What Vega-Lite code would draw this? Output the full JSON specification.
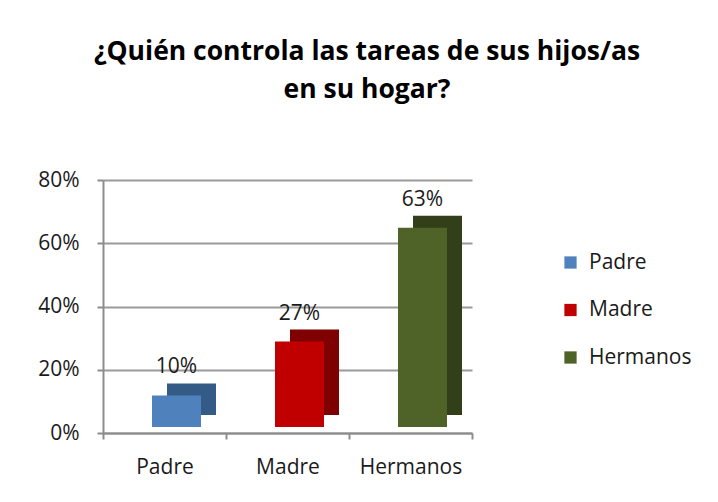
{
  "$schema": "https://vega.github.io/schema/vega-lite/v6.json",
  "autosize": {"type": "none"},
  "padding": {"left": 103, "top": 180, "right": 203, "bottom": 69},
  "width": 412,
  "height": 253,
  "background": "white",
  "config": {"view": {"stroke": null}},
  "title": {
    "text": ["¿Quién controla las tareas de sus hijos/as", "en su hogar?"],
    "font": "Open Sans",
    "fontSize": 26.5,
    "fontWeight": "bold",
    "color": "#000000",
    "anchor": "middle",
    "frame": "group",
    "dx": 58,
    "offset": 66,
    "lineHeight": 38
  },
  "data": {
    "values": [
      {"categoria": "Padre", "valor": 0.10, "etiqueta": "10%"},
      {"categoria": "Madre", "valor": 0.27, "etiqueta": "27%"},
      {"categoria": "Hermanos", "valor": 0.63, "etiqueta": "63%"}
    ]
  },
  "encoding": {
    "x": {
      "field": "categoria",
      "type": "nominal",
      "sort": ["Padre", "Madre", "Hermanos"],
      "scale": {"range": [0, 369], "paddingInner": 0, "paddingOuter": 0},
      "axis": {
        "title": null,
        "labelAngle": 0,
        "labelFont": "Open Sans",
        "labelFontSize": 21,
        "labelColor": "#1a1a1a",
        "labelPadding": 17,
        "tickBand": "extent",
        "tickSize": 6,
        "tickColor": "#8c8c8c",
        "domainColor": "#8c8c8c",
        "domainWidth": 2,
        "tickWidth": 2,
        "grid": false
      }
    },
    "y": {
      "field": "valor",
      "type": "quantitative",
      "scale": {"domain": [0, 0.8]},
      "axis": {
        "title": null,
        "format": ".0%",
        "values": [0, 0.2, 0.4, 0.6, 0.8],
        "labelFont": "Open Sans",
        "labelFontSize": 21,
        "labelColor": "#1a1a1a",
        "labelPadding": 18,
        "tickSize": 6,
        "tickColor": "#8c8c8c",
        "tickWidth": 2,
        "domainColor": "#8c8c8c",
        "domainWidth": 2,
        "grid": true,
        "gridColor": "#9a9a9a",
        "gridWidth": 2
      }
    }
  },
  "layer": [
    {
      "mark": {"type": "bar", "width": 49, "xOffset": 27, "x2Offset": 27, "yOffset": -18, "y2Offset": -18},
      "encoding": {
        "color": {
          "field": "categoria",
          "type": "nominal",
          "sort": ["Padre", "Madre", "Hermanos"],
          "scale": {"domain": ["Padre", "Madre", "Hermanos"], "range": ["#345a86", "#7f0000", "#323f19"]},
          "legend": null
        }
      }
    },
    {
      "mark": {"type": "bar", "width": 49, "xOffset": 12, "x2Offset": 12, "yOffset": -6, "y2Offset": -6},
      "encoding": {
        "color": {
          "field": "categoria",
          "type": "nominal",
          "sort": ["Padre", "Madre", "Hermanos"],
          "scale": {"domain": ["Padre", "Madre", "Hermanos"], "range": ["#4f81bd", "#c00000", "#4f6228"]},
          "legend": {
            "title": null,
            "orient": "none",
            "legendX": 457,
            "legendY": 72,
            "symbolType": "square",
            "symbolSize": 150,
            "symbolStrokeWidth": 0,
            "labelFont": "Open Sans",
            "labelFontSize": 21,
            "labelColor": "#1a1a1a",
            "rowPadding": 25.5,
            "labelOffset": 8
          }
        }
      }
    },
    {
      "mark": {"type": "text", "font": "Open Sans", "fontSize": 21, "color": "#1a1a1a", "dx": 12, "dy": -24, "baseline": "bottom"},
      "encoding": {"text": {"field": "etiqueta"}}
    }
  ],
  "resolve": {"scale": {"color": "independent"}, "legend": {"color": "independent"}}
}
